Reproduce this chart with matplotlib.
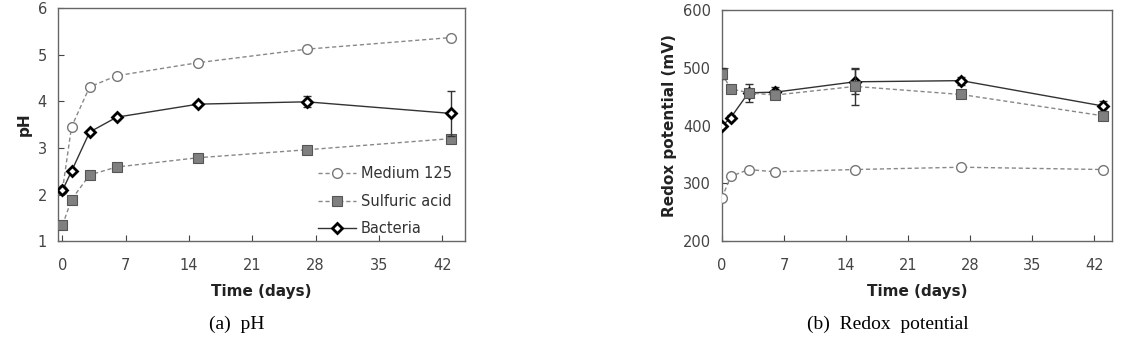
import matplotlib.pyplot as plt

# Datos
days = [0, 1, 3, 6, 15, 27, 43]

ph_medium = [2.10, 3.45, 4.31, 4.55, 4.83, 5.12, 5.37]
ph_sulfuric = [1.34, 1.89, 2.42, 2.59, 2.79, 2.96, 3.20]
ph_bacteria = [2.09, 2.50, 3.34, 3.66, 3.94, 3.99, 3.74]
ph_bacteria_err = [0.0, 0.0, 0.0, 0.0, 0.0, 0.12, 0.48]

orp_medium = [275, 312, 324, 320, 324, 328, 324]
orp_sulfuric = [490, 464, 457, 453, 468, 454, 417]
orp_sulfuric_err = [10, 0, 0, 0, 32, 0, 0]
orp_bacteria = [399, 414, 457, 458, 476, 478, 434]
orp_bacteria_err = [0, 5, 16, 9, 22, 7, 9]

labels = ['Medium 125', 'Sulfuric acid', 'Bacteria']
xticks = [0, 7, 14, 21, 28, 35, 42]

fig = plt.figure(figsize=(11.21, 3.41), dpi=100)
ax1 = fig.add_axes([0.0517, 0.293, 0.363, 0.683])
ax2 = fig.add_axes([0.644, 0.293, 0.348, 0.677])

medium_style = dict(color='#888888', linestyle=(0, (3, 2)), linewidth=1.0,
                    marker='o', markersize=7, markerfacecolor='white',
                    markeredgecolor='#777777', markeredgewidth=1.0)
sulfuric_style = dict(color='#888888', linestyle=(0, (3, 2)), linewidth=1.0,
                      marker='s', markersize=7, markerfacecolor='#808080',
                      markeredgecolor='#555555', markeredgewidth=0.8)
bacteria_style = dict(color='#333333', linestyle='-', linewidth=1.0,
                      marker='D', markersize=5.5, markerfacecolor='white',
                      markeredgecolor='black', markeredgewidth=2.0)
err_style = dict(fmt='none', ecolor='#333333', elinewidth=1.0, capsize=3)

# (a) pH
ax1.plot(days, ph_medium, label=labels[0], zorder=3, **medium_style)
ax1.plot(days, ph_sulfuric, label=labels[1], zorder=3, **sulfuric_style)
ax1.errorbar(days, ph_bacteria, yerr=ph_bacteria_err, zorder=4, **err_style)
ax1.plot(days, ph_bacteria, label=labels[2], zorder=5, **bacteria_style)
ax1.set_xlim(-0.5, 44.5)
ax1.set_ylim(1, 6)
ax1.set_ylabel('pH', fontsize=11, fontweight='bold', color='#222222')
leg = ax1.legend(loc='lower right', frameon=False, fontsize=10.5,
                 handlelength=2.6, handletextpad=0.3, labelspacing=0.85,
                 bbox_to_anchor=(1.0, -0.035))
for t in leg.get_texts():
    t.set_color('#333333')

# (b) Redox potential
ax2.plot(days, orp_medium, zorder=3, **medium_style)
ax2.errorbar(days, orp_bacteria, yerr=orp_bacteria_err, zorder=3, **err_style)
ax2.plot(days, orp_bacteria, zorder=4, **bacteria_style)
ax2.errorbar(days, orp_sulfuric, yerr=orp_sulfuric_err, zorder=5, **err_style)
ax2.plot(days, orp_sulfuric, zorder=6, **sulfuric_style)
ax2.set_xlim(0, 44)
ax2.set_ylim(200, 600)
ax2.set_yticks([200, 300, 400, 500, 600])
ax2.set_ylabel('Redox potential (mV)', fontsize=11, fontweight='bold',
               color='#222222')

for ax in (ax1, ax2):
    ax.set_xticks(xticks)
    ax.set_xlabel('Time (days)', fontsize=11, fontweight='bold',
                  color='#222222', labelpad=8)
    ax.tick_params(direction='in', length=4, labelsize=10.5, colors='#444444')
    ax.tick_params(axis='x', pad=12)
    ax.tick_params(axis='y', pad=8)
    for s in ax.spines.values():
        s.set_color('#666666')
        s.set_linewidth(1.0)

# Subtitulos
fig.text(0.211, 0.035, '(a)  pH', ha='center', fontsize=14,
         family='Liberation Serif')
fig.text(0.792, 0.035, '(b)  Redox  potential', ha='center', fontsize=14,
         family='Liberation Serif')

fig.savefig('out.png', dpi=100)
